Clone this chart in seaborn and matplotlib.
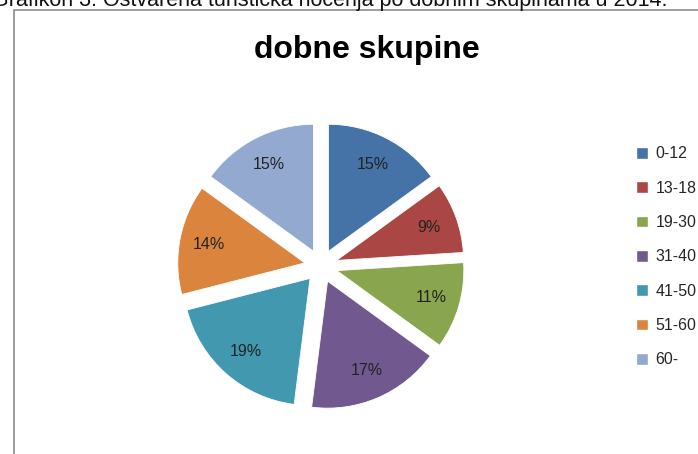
import matplotlib
matplotlib.use("Agg")
import matplotlib.pyplot as plt
import matplotlib.patches as mpatches
import seaborn as sns

categories = ["0-12", "13-18", "19-30", "31-40", "41-50", "51-60", "60-"]
shares = [15, 9, 11, 17, 19, 14, 15]
colors = ["#4572A7", "#AA4643", "#89A54E", "#71588F", "#4198AF", "#DB843D", "#93A9CF"]

title = "dobne skupine"
caption = "Grafikon 3. Ostvarena turistička noćenja po dobnim skupinama u 2014."

sns.set_theme(style="white")
plt.rcParams["font.family"] = ["Liberation Sans", "DejaVu Sans"]

W, H = 698, 454
fig = plt.figure(figsize=(W / 100, H / 100), dpi=100)

# grey chart frame, open at right and bottom
frame = mpatches.Rectangle((14 / W, -0.05), 1.2, (H - 10) / H + 0.05,
                           transform=fig.transFigure, fill=False,
                           edgecolor="#8c8c8c", linewidth=1.2)
fig.patches.append(frame)

# caption, cut off at the top like in the source document
fig.text(0.472, 1 - 6 / H, caption, ha="center", va="baseline",
         fontsize=15.5, color="#111111")

# pie axes: 1 data unit ~ 127 px
cx, cy, r = 321, 266, 127
half = 1.5 * r
ax = fig.add_axes([(cx - half) / W, (H - cy - half) / H, 2 * half / W, 2 * half / H])
wedges, texts, autotexts = ax.pie(
    shares, colors=colors, startangle=90, counterclock=False,
    explode=[0.13] * len(shares), autopct="%1.0f%%", pctdistance=0.77,
    wedgeprops=dict(linewidth=0.6, edgecolor="#ffffff"),
    textprops=dict(fontsize=11.5, color="#222222"))
ax.set_xlim(-1.5, 1.5)
ax.set_ylim(-1.5, 1.5)
ax.set_aspect("equal")
ax.axis("off")

fig.text(367 / W, 1 - 50 / H, title, ha="center", va="center",
         fontsize=23, fontweight="bold", color="#000000")

handles = [mpatches.Patch(facecolor=c, label=l) for c, l in zip(colors, categories)]
fig.legend(handles=handles, loc="upper left", bbox_to_anchor=(630 / W, 1 - 140 / H),
           frameon=False, fontsize=11.5, handlelength=0.75, handleheight=0.75,
           handletextpad=0.45, labelspacing=1.21, borderaxespad=0)

fig.savefig("out.png", dpi=100)
